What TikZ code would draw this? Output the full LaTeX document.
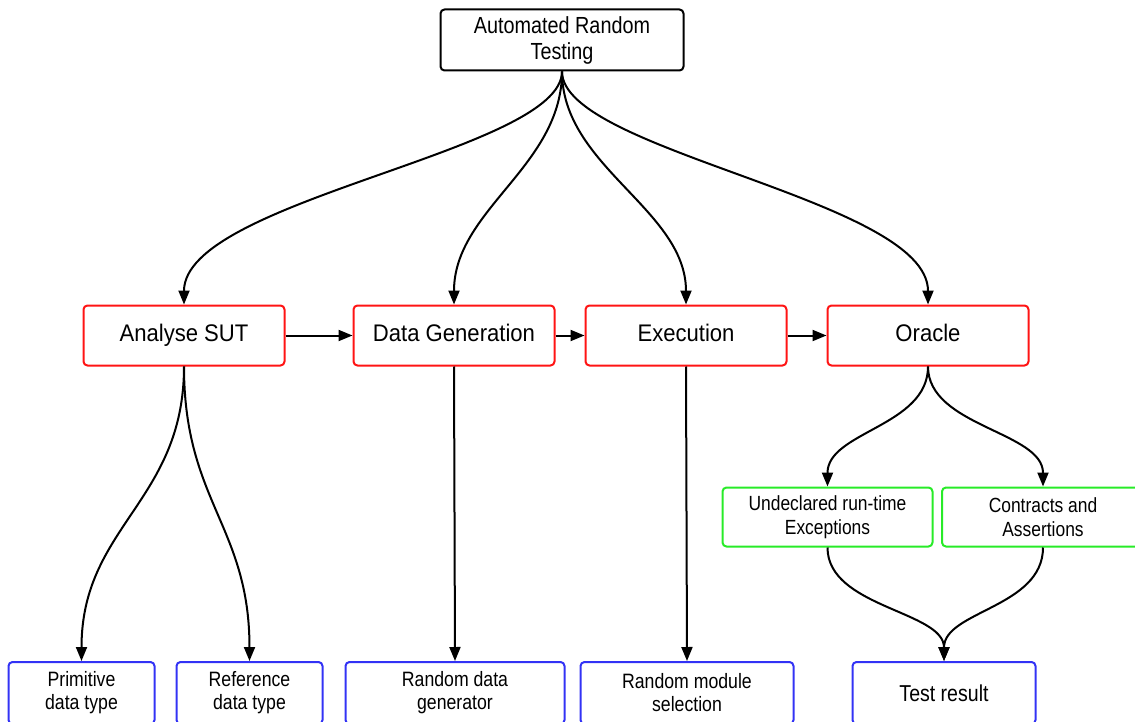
\documentclass[tikz,border=0pt]{standalone}
\usepackage{fontspec}
\setmainfont[FakeStretch=0.85]{Liberation Sans}
\newfontfamily\stagefont[FakeStretch=0.92]{Liberation Sans}
\usetikzlibrary{arrows.meta}

\definecolor{stagered}{RGB}{255,20,20}
\definecolor{checkgreen}{RGB}{40,235,40}
\definecolor{leafblue}{RGB}{50,50,245}

\tikzset{
    box/.style={draw, rounded corners=4pt, line width=2pt, align=center,
        inner sep=0pt, text=black},
    topbox/.style={box, draw=black, minimum width=243pt, minimum height=61pt,
        font=\fontsize{23.3}{26}\selectfont},
    stagebox/.style={box, draw=stagered, minimum width=201pt, minimum height=60pt,
        text height=17pt, text depth=5pt,
        font=\stagefont\fontsize{24}{28}\selectfont},
    checkbox/.style={box, draw=checkgreen, minimum height=59pt,
        font=\fontsize{20.5}{24}\selectfont},
    leafbox/.style={box, draw=leafblue, minimum height=62pt,
        font=\fontsize{20.8}{23}\selectfont},
    link/.style={line width=2pt, -{Triangle[length=14pt,width=11pt]}}
}

\begin{document}
\begin{tikzpicture}[x=1pt, y=1pt]
    \useasboundingbox (0,0) rectangle (1135,-722);

    % top
    \node [topbox] (art) at (562,-40) {Automated Random\\Testing};

    % stages
    \node [stagebox] (sut)  at (184,-335.5) {Analyse SUT};
    \node [stagebox] (gen)  at (454,-335.5) {Data Generation};
    \node [stagebox] (exec) at (686,-335.5) {Execution};
    \node [stagebox] (orc)  at (928,-335.5) {Oracle};

    % oracle checks
    \node [checkbox, minimum width=210pt] (undecl) at (827.5,-517) {Undeclared run-time\\Exceptions};
    \node [checkbox, minimum width=202pt] (contr)  at (1043,-517) {Contracts and\\Assertions};

    % leaves
    \node [leafbox, minimum width=146pt] (prim) at (81.5,-693) {Primitive\\data type};
    \node [leafbox, minimum width=146pt] (ref)  at (249.5,-693) {Reference\\data type};
    \node [leafbox, minimum width=219pt] (rdg)  at (455,-693) {Random data\\generator};
    \node [leafbox, minimum width=213pt] (rms)  at (687,-693) {Random module\\selection};
    \node [leafbox, minimum width=183pt, font=\fontsize{23}{26}\selectfont] (res) at (944,-693) {Test result};

    % top to stages
    \draw [link] (art.south) .. controls +(0,-80) and +(0,105) .. (sut.north);
    \draw [link] (art.south) .. controls +(0,-95) and +(0,95) .. (gen.north);
    \draw [link] (art.south) .. controls +(0,-95) and +(0,95) .. (exec.north);
    \draw [link] (art.south) .. controls +(0,-80) and +(0,105) .. (orc.north);

    % pipeline
    \draw [link] (sut.east) -- (gen.west);
    \draw [link] (gen.east) -- (exec.west);
    \draw [link] (exec.east) -- (orc.west);

    % stages to leaves
    \draw [link] (sut.south) .. controls +(0,-135) and +(0,135) .. (prim.north);
    \draw [link] (sut.south) .. controls +(0,-135) and +(0,135) .. (ref.north);
    \draw [link] (gen.south) -- (rdg.north);
    \draw [link] (exec.south) -- (rms.north);
    \draw [link] (orc.south) .. controls +(0,-60) and +(0,55) .. (undecl.north);
    \draw [link] (orc.south) .. controls +(0,-60) and +(0,55) .. (contr.north);
    \draw [link] (undecl.south) .. controls +(0,-60) and +(0,50) .. (res.north);
    \draw [link] (contr.south) .. controls +(0,-60) and +(0,50) .. (res.north);
\end{tikzpicture}
\end{document}
